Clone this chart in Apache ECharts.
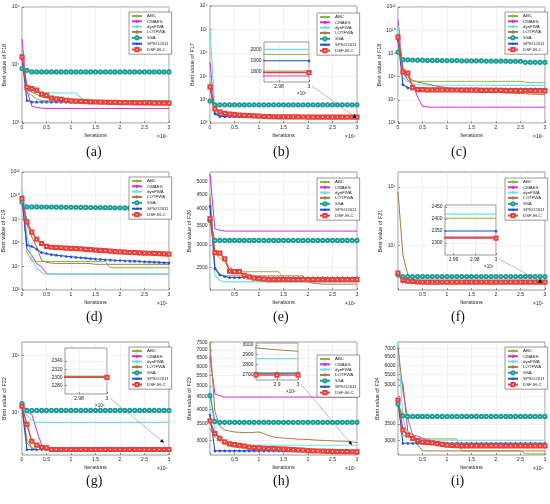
<!DOCTYPE html>
<html>
<head>
<meta charset="utf-8">
<script src="https://cdn.jsdelivr.net/npm/echarts@6/dist/echarts.min.js"></script>
<style>html,body{margin:0;padding:0;background:#fff}#main{width:550px;height:504px}</style>
</head>
<body>
<div id="main"></div>
<script>
// iteration axis (x 10^5)
var iterations = [0,0.1,0.2,0.3,0.4,0.5,0.6,0.7,0.8,0.9,1,1.1,1.2,1.3,1.4,1.5,1.6,1.7,1.8,1.9,2,2.1,2.2,2.3,2.4,2.5,2.6,2.7,2.8,2.9,3];
var algorithms = ['ABC','CMAES','dynFWA','LOTFWA','SSA','SPSO2011','DSF-ELC'];

// best value curves, one row per algorithm (same order as algorithms)
var F16 = [
 [18000,3400,3000,2600,2450,2420,2410,2400,2400,2400, 2400,2400,2400,2400,2400,2400,2400,2400,2400,2400, 2400,2400,2400,2400,2400,2400,2400,2400,2400,2400, 2400],
 [28000,3650,1950,1850,1800,1780,1780,1780,1780,1780, 1780,1780,1780,1780,1780,1780,1780,1780,1780,1780, 1780,1780,1780,1780,1780,1780,1780,1780,1780,1780, 1780],
 [18000,3700,3400,3350,3350,3330,3320,3310,3300,3300, 3300,3300,2700,2420,2400,2400,2400,2400,2400,2400, 2400,2400,2400,2400,2400,2400,2400,2400,2400,2400, 2400],
 [15000,3750,3400,3100,2800,2700,2620,2560,2520,2480, 2450,2430,2410,2400,2400,2390,2390,2390,2390,2390, 2380,2380,2380,2380,2380,2380,2380,2380,2380,2380, 2380],
 [8700,8100,7600,7600,7600,7600,7600,7600,7600,7600, 7600,7600,7600,7600,7600,7600,7600,7600,7600,7600, 7600,7600,7600,7600,7600,7600,7600,7600,7600,7600, 7600],
 [13000,2450,2300,2300,2300,2300,2300,2300,2300,2300, 2300,2300,2300,2300,2300,2300,2300,2300,2300,2300, 2300,2300,2300,2300,2300,2300,2300,2300,2300,2300, 2300],
 [13800,4100,3900,3700,3150,3000,2700,2600,2550,2450, 2400,2380,2360,2340,2320,2300,2290,2280,2270,2260, 2250,2240,2235,2230,2225,2220,2215,2210,2205,2200, 2200]
];
var F17 = [
 [60000,2500,2100,2000,1980,1970,1960,1955,1955,1955, 1955,1955,1955,1955,1955,1955,1955,1955,1955,1955, 1955,1955,1955,1955,1955,1955,1955,1955,1955,1955, 1955],
 [400000,2500,2000,1850,1800,1780,1770,1765,1765,1765, 1765,1765,1765,1765,1765,1765,1765,1765,1765,1765, 1765,1765,1765,1765,1765,1765,1765,1765,1765,1765, 1765],
 [1e7,3400,2300,2100,2050,2020,2010,2000,2000,2000, 2000,2000,2000,2000,2000,2000,2000,2000,2000,2000, 2000,2000,2000,2000,2000,2000,2000,2000,2000,2000, 2000],
 [40000,2600,2100,1950,1900,1870,1850,1840,1830,1820, 1815,1810,1808,1808,1808,1808,1808,1808,1808,1808, 1808,1808,1808,1808,1808,1808,1808,1808,1808,1808, 1808],
 [8700,6000,6000,6000,6000,6000,6000,6000,6000,6000, 6000,6000,6000,6000,6000,6000,6000,6000,6000,6000, 6000,6000,6000,6000,6000,6000,6000,6000,6000,6000, 6000],
 [37000,2500,1900,1900,1900,1900,1900,1900,1900,1900, 1900,1900,1900,1900,1900,1900,1900,1900,1900,1900, 1900,1900,1900,1900,1900,1900,1900,1900,1900,1900, 1900],
 [35000,4000,3000,2600,2400,2300,2200,2100,2050,2000, 1950,1900,1870,1850,1840,1830,1820,1815,1810,1805, 1800,1800,1800,1798,1797,1796,1795,1795,1795,1795, 1795]
];
var F18 = [
 [1.3e10,1.8e6,8e5,4e5,3.9e5,3.9e5,3.9e5,3.9e5,3.9e5,3.9e5, 3.9e5,3.9e5,3.9e5,3.9e5,3.9e5,3.9e5,3.9e5,3.9e5,3.9e5,3.9e5, 3.9e5,3.9e5,3.9e5,3.9e5,3.9e5,3.9e5,3.2e5,3e5,3e5,3e5, 3e5],
 [8e10,2.5e6,4.8e5,2.5e5,1.7e4,2750,2400,2300,2300,2300, 2300,2300,2300,2300,2300,2300,2300,2300,2300,2300, 2300,2300,2300,2300,2300,2300,2300,2300,2300,2300, 2300],
 [2.5e10,9e5,3.4e5,2.5e5,2e5,1.9e5,1.8e5,1.8e5,1.8e5,1.8e5, 1.8e5,1.8e5,1.8e5,1.8e5,1.8e5,1.8e5,1.8e5,1.8e5,1.8e5,1.8e5, 1.75e5,1.75e5,1.75e5,1.75e5,1.75e5,1.75e5,1.75e5,1.75e5,1.75e5,1.75e5, 1.7e5],
 [5e9,6.7e6,1.3e6,4.8e5,3.4e5,2.8e5,2.3e5,1.8e5,1.5e5,1.3e5, 1.1e5,1e5,9.2e4,8.5e4,7.8e4,7e4,6.5e4,6e4,5.5e4,5e4, 4.5e4,4.2e4,4e4,3.8e4,3.6e4,3.5e4,3.3e4,3.1e4,3e4,2.9e4, 2.8e4],
 [1.3e8,2.9e7,2.8e7,2.7e7,2.6e7,2.6e7,2.5e7,2.5e7,2.5e7,2.4e7, 2.4e7,2.4e7,2.4e7,2.3e7,2.3e7,2.3e7,2.3e7,2.3e7,2.2e7,2.2e7, 2.2e7,2.2e7,2.2e7,2.1e7,2.1e7,2.1e7,1.7e7,1.7e7,1.7e7,1.7e7, 1.7e7],
 [1.5e9,2.1e5,1.1e5,9e4,9e4,9e4,9e4,9e4,9e4,9e4, 9e4,9e4,9e4,9e4,9e4,9e4,9e4,9e4,9e4,9e4, 8.8e4,8.8e4,8.8e4,8.8e4,8.8e4,8.8e4,8.8e4,8.8e4,8.8e4,8.8e4, 8.8e4],
 [2.5e9,2.5e6,2e6,1.1e5,7.4e4,7.4e4,7.3e4,7.2e4,7.2e4,7.1e4, 7e4,7e4,7e4,6.9e4,6.8e4,6.8e4,6.7e4,6.6e4,6.6e4,6.5e4, 6.4e4,6.4e4,6.3e4,6.2e4,6.2e4,6.1e4,6e4,6e4,5.9e4,5.9e4, 5.8e4]
];
var F19 = [
 [1e10,1.7e5,2.8e4,2.6e4,2.6e4,2.6e4,2.6e4,2.6e4,2.6e4,2.6e4, 2.6e4,2.6e4,2.6e4,2.6e4,2.6e4,2.6e4,2.6e4,2.6e4,7.7e3,7.7e3, 7.7e3,7.7e3,7.7e3,7.7e3,7.7e3,7.7e3,7.7e3,7.7e3,7.7e3,7.7e3, 7.7e3],
 [1e10,3.2e5,9e4,1.8e4,9e3,2.5e3,2.2e3,2.2e3,2.2e3,2.2e3, 2.2e3,2.2e3,2.2e3,2.2e3,2.2e3,2.2e3,2.2e3,2.2e3,2.2e3,2.2e3, 2.2e3,2.2e3,2.2e3,2.2e3,2.2e3,2.2e3,2.2e3,2.2e3,2.2e3,2.2e3, 2.2e3],
 [4e10,4.5e6,4.8e4,6.8e3,3.1e3,2.2e3,2.2e3,2.2e3,2.2e3,2.2e3, 2.2e3,2.2e3,2.2e3,2.2e3,2.2e3,2.2e3,2.2e3,2.2e3,2.2e3,2.2e3, 2.2e3,2.2e3,2.2e3,2.2e3,2.2e3,2.2e3,2.2e3,2.2e3,2.2e3,2.2e3, 2.2e3],
 [8e9,4e7,3e6,4.6e5,3.2e4,2.2e4,1.9e4,1.8e4,1.8e4,1.8e4, 1.8e4,1.8e4,1.8e4,1.8e4,1.7e4,1.5e4,1.5e4,1.5e4,1.5e4,1.5e4, 1.5e4,1.5e4,1.5e4,1.5e4,1.5e4,1.5e4,1.5e4,1.5e4,1.5e4,1.5e4, 1.5e4],
 [2.9e9,1.1e9,1.1e9,1.1e9,1.08e9,1.07e9,1.06e9,1.05e9,1.04e9,1.03e9, 1.02e9,1.01e9,1e9,9.9e8,9.8e8,9.7e8,9.6e8,9.5e8,9.4e8,9.3e8, 9.2e8,9.1e8,9e8,8.9e8,8.8e8,8.7e8,8.6e8,8.5e8,8.4e8,8.2e8, 8e8],
 [5e9,6.3e5,5e5,2.9e5,1.5e5,1.25e5,1e5,9.1e4,8e4,7.2e4, 6.6e4,6e4,5.5e4,5e4,4.6e4,4.2e4,4e4,3.7e4,3.5e4,3.3e4, 3.2e4,3e4,2.9e4,2.8e4,2.7e4,2.5e4,2.4e4,2.3e4,2.2e4,2.1e4, 2e4],
 [5.6e9,5.9e7,8e6,2e6,8.7e5,5e5,4.2e5,4e5,3.8e5,3.6e5, 3.4e5,3.2e5,3e5,2.8e5,2.6e5,2.4e5,2.3e5,2.2e5,2e5,1.8e5, 1.7e5,1.6e5,1.5e5,1.45e5,1.4e5,1.35e5,1.3e5,1.25e5,1.2e5,1.15e5, 1.1e5]
];
var F20 = [
 [4300,2800,2700,2640,2520,2430,2420,2420,2420,2420, 2420,2420,2420,2420,2420,2290,2290,2290,2290,2290, 2290,2290,2290,2290,2290,2290,2290,2290,2290,2290, 2290],
 [5300,3415,3370,3350,3350,3350,3350,3350,3350,3350, 3350,3350,3350,3350,3350,3350,3350,3350,3350,3350, 3350,3350,3350,3350,3350,3350,3350,3350,3350,3350, 3350],
 [4500,2350,2260,2230,2230,2230,2230,2230,2230,2230, 2230,2230,2230,2230,2230,2230,2230,2230,2230,2230, 2230,2230,2230,2230,2230,2230,2230,2230,2230,2230, 2230],
 [4400,2520,2360,2340,2340,2340,2340,2340,2340,2340, 2340,2340,2340,2340,2340,2340,2340,2340,2340,2340, 2230,2210,2200,2190,2190,2190,2190,2190,2190,2190, 2190],
 [3650,3110,3110,3110,3110,3110,3110,3110,3110,3110, 3110,3110,3110,3110,3110,3110,3110,3110,3110,3110, 3110,3110,3110,3110,3110,3110,3110,3110,3110,3110, 3110],
 [4090,2480,2360,2330,2310,2310,2310,2310,2310,2310, 2310,2310,2310,2310,2310,2310,2310,2310,2310,2310, 2310,2310,2310,2310,2310,2310,2310,2310,2310,2310, 2310],
 [3700,2820,2810,2680,2430,2420,2420,2350,2320,2300, 2290,2280,2270,2270,2270,2270,2270,2270,2270,2270, 2270,2270,2270,2270,2270,2270,2270,2270,2270,2270, 2270]
];
var F21 = [
 [3200,2550,2450,2403,2403,2403,2403,2403,2403,2403, 2403,2403,2403,2403,2403,2403,2403,2403,2403,2403, 2403,2403,2403,2403,2403,2403,2403,2403,2403,2403, 2403],
 [3000,2500,2400,2325,2325,2325,2325,2325,2325,2325, 2325,2325,2325,2325,2325,2325,2325,2325,2325,2325, 2325,2325,2325,2325,2325,2325,2325,2325,2325,2325, 2325],
 [3700,2600,2500,2420,2420,2420,2420,2420,2420,2420, 2420,2420,2420,2420,2420,2420,2420,2420,2420,2420, 2420,2420,2420,2420,2420,2420,2420,2420,2420,2420, 2420],
 [82000,6800,3100,2600,2400,2330,2322,2322,2322,2322, 2322,2322,2322,2322,2322,2322,2322,2322,2322,2322, 2322,2322,2322,2322,2322,2322,2322,2322,2322,2322, 2322],
 [3100,2900,2900,2900,2900,2900,2900,2900,2900,2900, 2900,2900,2900,2900,2900,2900,2900,2900,2900,2900, 2900,2900,2900,2900,2900,2900,2900,2900,2900,2900, 2900],
 [3200,2350,2350,2350,2350,2350,2350,2350,2350,2350, 2350,2350,2350,2350,2350,2350,2350,2350,2350,2350, 2350,2350,2350,2350,2350,2350,2350,2350,2350,2350, 2350],
 [3300,2500,2420,2380,2350,2320,2320,2320,2320,2320, 2320,2320,2320,2320,2320,2320,2320,2320,2320,2320, 2320,2320,2320,2320,2320,2320,2320,2320,2320,2320, 2320]
];
var F22 = [
 [12000,3500,2500,2303,2303,2303,2303,2303,2303,2303, 2303,2303,2303,2303,2303,2303,2303,2303,2303,2303, 2303,2303,2303,2303,2303,2303,2303,2303,2303,2303, 2303],
 [13500,10400,9400,5000,2750,2450,2300,2300,2300,2300, 2300,2300,2300,2300,2300,2300,2300,2300,2300,2300, 2300,2300,2300,2300,2300,2300,2300,2300,2300,2300, 2300],
 [14000,9000,7400,6800,6800,6800,6800,6800,6800,6800, 6800,6800,6800,6800,6800,6800,6800,6800,6800,6800, 6800,6800,6800,6800,6800,6800,6800,6800,6800,6800, 6800],
 [13000,3000,2400,2300,2300,2300,2300,2300,2300,2300, 2300,2300,2300,2300,2300,2300,2300,2300,2300,2300, 2300,2300,2300,2300,2300,2300,2300,2300,2300,2300, 2300],
 [14500,11000,11000,11000,11000,11000,11000,11000,11000,11000, 11000,11000,11000,11000,11000,11000,11000,11000,11000,11000, 11000,11000,11000,11000,11000,11000,11000,11000,11000,11000, 11000],
 [12700,2300,2300,2300,2300,2300,2300,2300,2300,2300, 2300,2300,2300,2300,2300,2300,2300,2300,2300,2300, 2300,2300,2300,2300,2300,2300,2300,2300,2300,2300, 2300],
 [13000,6300,3200,2750,2500,2450,2300,2300,2300,2300, 2300,2300,2300,2300,2300,2300,2300,2300,2300,2300, 2300,2300,2300,2300,2300,2300,2300,2300,2300,2300, 2300]
];
var F23 = [
 [3340,3090,2960,2880,2840,2810,2790,2780,2770,2765, 2760,2750,2740,2730,2720,2710,2705,2705,2705,2705, 2705,2705,2705,2705,2705,2705,2705,2705,2705,2705, 2705],
 [6620,4630,4560,4500,4500,4500,4500,4500,4500,4500, 4500,4500,4500,4500,4500,4500,4500,4500,4500,4500, 4500,4500,4500,4500,4500,4500,4500,4500,4500,4500, 4500],
 [5000,3300,3050,2970,2900,2870,2860,2860,2860,2860, 2860,2860,2860,2860,2860,2860,2860,2860,2860,2860, 2860,2860,2860,2860,2860,2860,2860,2860,2860,2860, 2860],
 [7500,3930,3420,3300,3270,3240,3230,3220,3220,3230, 3240,3190,3130,3090,3070,3060,3050,3040,3030,3025, 3020,3010,3000,2995,2990,2980,2975,2972,2970,2950, 2935],
 [4560,3580,3550,3550,3550,3550,3550,3550,3550,3550, 3550,3550,3550,3550,3550,3550,3550,3550,3550,3550, 3550,3550,3550,3550,3550,3550,3550,3550,3550,3550, 3550],
 [3800,2712,2712,2712,2712,2712,2712,2712,2712,2712, 2712,2712,2712,2712,2712,2712,2712,2712,2712,2712, 2712,2712,2712,2712,2712,2712,2712,2712,2712,2712, 2712],
 [3600,3190,3050,2950,2900,2880,2860,2840,2810,2800, 2790,2780,2775,2770,2765,2760,2750,2745,2740,2730, 2720,2715,2710,2705,2700,2698,2695,2693,2692,2691, 2690]
];
var F24 = [
 [4100,3160,3110,3080,3060,3050,3050,3050,3050,3050, 3050,3050,3050,2730,2730,2730,2730,2730,2730,2730, 2730,2730,2730,2730,2730,2730,2660,2660,2660,2660, 2660],
 [5290,5100,3260,3160,3130,3060,3030,3000,2970,2950, 2930,2900,2890,2880,2880,2880,2880,2880,2880,2880, 2880,2880,2880,2880,2880,2880,2880,2880,2880,2880, 2880],
 [7430,3680,3160,3080,3040,3010,3010,3010,3010,3010, 3010,3010,3010,3010,3010,3010,3010,3010,3010,3010, 3010,3010,3010,3010,3010,3010,3010,3010,3010,3010, 3010],
 [7100,4740,3680,3160,2880,2740,2730,2730,2730,2730, 2730,2730,2730,2730,2730,2730,2730,2730,2730,2730, 2730,2730,2730,2730,2730,2730,2730,2730,2730,2730, 2730],
 [4200,3770,3750,3750,3750,3750,3750,3750,3750,3750, 3750,3750,3750,3750,3750,3750,3750,3750,3750,3750, 3750,3750,3750,3750,3750,3750,3750,3750,3750,3750, 3750],
 [4360,2930,2930,2930,2930,2930,2930,2930,2930,2930, 2930,2930,2930,2930,2930,2930,2930,2930,2930,2930, 2930,2930,2930,2930,2930,2930,2930,2930,2930,2930, 2930],
 [4360,3310,3160,3060,3000,2960,2950,2940,2920,2900, 2880,2870,2865,2860,2860,2860,2860,2860,2860,2860, 2860,2860,2860,2860,2860,2860,2860,2860,2860,2860, 2860]
];

// tick labels
var xTicks = [0,0.5,1,1.5,2,2.5,3];
var ticksF16 = [1e3,1e4,1e5];
var ticksF17 = [1e3,1e4,1e5,1e6,1e7,1e8];
var ticksF18 = [1e2,1e4,1e6,1e8,1e10,1e12];
var ticksF19 = [1e2,1e4,1e6,1e8,1e10,1e12];
var ticksF20 = [2500,3000,3500,4000,4500,5000];
var ticksF21 = [1e4,1e5];
var ticksF22 = [1e4,1e5];
var ticksF23 = [3000,3500,4000,4500,5000,5500,6000,6500,7000,7500];
var ticksF24 = [3000,3500,4000,4500,5000,5500,6000,6500,7000];
var labelsF24 = [3000,3500,5000,5500,6000,6500,7000];
var insetXF17 = [2.98,3], insetYF17 = [1800,1900,2000];
var insetXF21 = [2.96,2.98,3], insetYF21 = [2300,2350,2400,2450];
var insetXF22 = [2.98,3], insetYF22 = [2280,2300,2320,2340];
var insetXF23 = [2.9,3], insetYF23 = [2700,2800,2900,3000];

var colors = ['#86b83c','#d42ed4','#72dfe3','#a57a45','#1a9e96','#1f4fd8','#e9413a'];
var STAR = 'path://M0,-10L2.9,-4L9.5,-3.1L4.7,1.5L5.9,8.1L0,5L-5.9,8.1L-4.7,1.5L-9.5,-3.1L-2.9,-4Z';
var symbols = ['none','none','none','none','emptyCircle',STAR,'emptyRect'];
var widths = [1,1,1.1,1,1,1.1,1.4];
var FONT = 'Liberation Sans';
var TXT = '#262626';

var panels = [
  {fn:'F16', data:F16, box:[22,7,147,116], ymin:1e3, ymax:1e5, ticks:ticksF16, sup:true, legend:[129,12], cap:'(a)', capPos:[95,153]},
  {fn:'F17', data:F17, box:[210,6,147,117], ymin:1e3, ymax:1e8, ticks:ticksF17, sup:true, legend:[317,13], cap:'(b)', capPos:[282,153],
    inset:{box:[264,42,45,40], x:[2.97,3], y:[1712,2065], xt:insetXF17, yt:insetYF17}, arrow:{to:[2.95,1900], head:'tri'}},
  {fn:'F18', data:F18, box:[398,7,147,116], ymin:1e2, ymax:1e12, ticks:ticksF18, sup:true, legend:[505,12], cap:'(c)', capPos:[460,153]},
  {fn:'F19', data:F19, box:[22,172,147,118], ymin:1e2, ymax:1e12, ticks:ticksF19, sup:true, legend:[129,177], cap:'(d)', capPos:[95,318]},
  {fn:'F20', data:F20, box:[210,172,147,118], ymin:2090, ymax:5380, ticks:ticksF20, hideZero:true, legend:[317,178], cap:'(e)', capPos:[282,318]},
  {fn:'F21', data:F21, box:[398,172,147,118], ymin:1700, ymax:1.8e5, ticks:ticksF21, sup:true, hideZero:true, legend:[505,178], cap:'(f)', capPos:[460,318],
    inset:{box:[445,205,51,50], x:[2.952,3], y:[2250,2458], xt:insetXF21, yt:insetYF21}, arrow:{to:[2.9,2400], head:'tri'}},
  {fn:'F22', data:F22, box:[22,342,147,113], ymin:1846, ymax:1.7e5, ticks:ticksF22, sup:true, legend:[129,347], cap:'(g)', capPos:[95,482],
    inset:{box:[65,348,42,46], x:[2.97,3], y:[2259,2372], xt:insetXF22, yt:insetYF22}, arrow:{to:[2.9,3000], head:'arrow'}},
  {fn:'F23', data:F23, box:[210,342,147,113], ymin:2610, ymax:7550, ticks:ticksF23, hideZero:true, legend:[317,355], cap:'(h)', capPos:[282,482],
    inset:{box:[256,343,42,37], x:[2.8,3], y:[2640,3020], xt:insetXF23, yt:insetYF23}, arrow:{to:[2.9,2870], head:'arrow'}},
  {fn:'F24', data:F24, box:[398,342,147,113], ymin:2630, ymax:7430, ticks:ticksF24, labels:labelsF24, hideZero:true, legend:[505,347], cap:'(i)', capPos:[460,482]}
];

var SUP = '⁰¹²³⁴⁵⁶⁷⁸⁹';
function supNum(n) {
  return String(n).split('').map(function(c){ return SUP[+c]; }).join('');
}
function pow10Label(v) {
  return '10' + supNum(Math.round(Math.log10(v)));
}

function lineSeries(k, values, gi, inset) {
  var plain = symbols[k] === 'none';
  return {
    type: 'line', name: algorithms[k], xAxisIndex: gi, yAxisIndex: gi,
    data: iterations.map(function(x, j){ return [x, values[j]]; }),
    symbol: symbols[k], showSymbol: !plain, symbolSize: k === 5 ? 3.6 : 3.2,
    lineStyle: {color: colors[k], width: widths[k]},
    itemStyle: {color: colors[k], borderWidth: 0.7},
    clip: true, silent: true, z: inset ? 12 : 2
  };
}

var tickStyle = {inside: true, length: 2, lineStyle: {color: '#333', width: 0.5}};
var gridLine = {show: true, lineStyle: {color: '#e4e4e4', width: 0.5}};
var labelBase = {fontSize: 5, color: TXT, fontFamily: FONT};

var option = {animation: false, backgroundColor: '#fff', grid: [], xAxis: [], yAxis: [], series: [], legend: [], graphic: []};

panels.forEach(function (p) {
  var gi = option.grid.length;
  option.grid.push({left: p.box[0], top: p.box[1], width: p.box[2], height: p.box[3], show: true,
    borderColor: '#333', borderWidth: 0.5, backgroundColor: '#fff', outerBoundsMode: 'none'});
  option.xAxis.push({
    type: 'value', gridIndex: gi, min: 0, max: 3, interval: 0.5,
    name: 'Iterations', nameLocation: 'middle', nameGap: 9,
    nameTextStyle: {fontSize: 5.5, color: TXT, fontFamily: FONT},
    axisLine: {show: false}, axisTick: tickStyle, splitLine: gridLine,
    axisLabel: Object.assign({margin: 2.5, formatter: function (v) {
      return (v === 0 && p.hideZero) ? '' : String(v);
    }}, labelBase)
  });
  option.yAxis.push({
    type: 'log', logBase: 10, gridIndex: gi, min: p.ymin, max: p.ymax,
    name: 'Best value of ' + p.fn, nameLocation: 'middle', nameGap: p.sup ? 13 : 15,
    nameTextStyle: {fontSize: 5.5, color: TXT, fontFamily: FONT},
    axisLine: {show: false},
    axisTick: Object.assign({customValues: p.ticks}, tickStyle),
    splitLine: gridLine,
    axisLabel: Object.assign({margin: 2.5, customValues: p.labels || p.ticks, formatter: function (v) {
      return p.sup ? pow10Label(v) : String(Math.round(v));
    }}, labelBase)
  });
  algorithms.forEach(function (name, k) {
    option.series.push(lineSeries(k, p.data[k], gi, false));
  });
  option.legend.push({
    orient: 'vertical', left: p.legend[0], top: p.legend[1], data: algorithms,
    itemWidth: 10, itemHeight: 4, itemGap: 1.3, padding: [2, 3, 2, 2],
    textStyle: {fontSize: 4.4, color: '#222', fontFamily: FONT},
    borderColor: '#333', borderWidth: 0.5, backgroundColor: '#fff', selectedMode: false, z: 20
  });
  option.graphic.push({type: 'text', left: p.box[0] + p.box[2] - 12, top: p.box[1] + p.box[3] + 11, z: 30,
    style: {text: '×10⁵', fontSize: 5, fill: TXT, fontFamily: FONT}});
  option.graphic.push({type: 'text', left: p.capPos[0] - 9, top: p.capPos[1] - 8, z: 30,
    style: {text: p.cap, fontSize: 14, fill: '#111', fontFamily: 'Liberation Serif'}});

  if (p.inset) {
    var q = p.inset;
    var ii = option.grid.length;
    p.mainIndex = gi; p.insetIndex = ii;
    option.grid.push({left: q.box[0], top: q.box[1], width: q.box[2], height: q.box[3], show: true,
      borderColor: '#333', borderWidth: 0.5, backgroundColor: '#fff', z: 10, outerBoundsMode: 'none'});
    option.xAxis.push({
      type: 'value', gridIndex: ii, min: q.x[0], max: q.x[1], z: 11,
      axisLine: {show: false},
      axisTick: Object.assign({customValues: q.xt}, tickStyle), splitLine: Object.assign({}, gridLine),
      axisLabel: Object.assign({margin: 2.5, customValues: q.xt, formatter: function (v) { return String(v); }}, labelBase)
    });
    option.yAxis.push({
      type: 'value', gridIndex: ii, min: q.y[0], max: q.y[1], z: 11,
      axisLine: {show: false},
      axisTick: Object.assign({customValues: q.yt}, tickStyle), splitLine: Object.assign({}, gridLine),
      axisLabel: Object.assign({margin: 2.5, customValues: q.yt, formatter: function (v) { return String(v); }}, labelBase)
    });
    algorithms.forEach(function (name, k) {
      option.series.push(lineSeries(k, p.data[k], ii, true));
    });
    option.graphic.push({type: 'text', left: q.box[0] + q.box[2] - 12, top: q.box[1] + q.box[3] + 9, z: 30,
      style: {text: '×10⁵', fontSize: 4.5, fill: TXT, fontFamily: FONT}});
  }
});

var chart = echarts.init(document.getElementById('main'));
chart.setOption(option);

// leader lines from each inset to the zoomed spot
panels.forEach(function (p) {
  if (!p.inset) return;
  var q = p.inset;
  var from = chart.convertToPixel({gridIndex: p.insetIndex}, [q.x[1], q.y[0]]);
  var to = chart.convertToPixel({gridIndex: p.mainIndex}, p.arrow.to);
  from = [from[0] + 3, from[1] + 4];
  option.graphic.push({type: 'line', z: 30, silent: true,
    shape: {x1: from[0], y1: from[1], x2: to[0], y2: to[1]},
    style: {stroke: '#777', lineWidth: 0.5}});
  var pts;
  if (p.arrow.head === 'tri') {
    pts = [[to[0], to[1] - 2.5], [to[0] - 2.2, to[1] + 1.5], [to[0] + 2.2, to[1] + 1.5]];
  } else {
    var ang = Math.atan2(to[1] - from[1], to[0] - from[0]);
    var L = 4, W = 1.8;
    var bx = to[0] - L * Math.cos(ang), by = to[1] - L * Math.sin(ang);
    pts = [[to[0], to[1]], [bx - W * Math.sin(ang), by + W * Math.cos(ang)], [bx + W * Math.sin(ang), by - W * Math.cos(ang)]];
  }
  option.graphic.push({type: 'polygon', z: 31, silent: true, shape: {points: pts}, style: {fill: '#111'}});
});
chart.setOption({graphic: option.graphic});
</script>
</body>
</html>
